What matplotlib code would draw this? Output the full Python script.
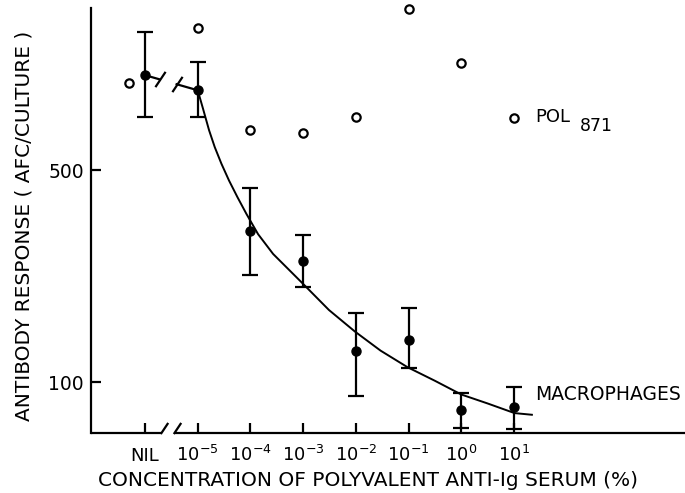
import matplotlib
matplotlib.use("Agg")
import matplotlib.pyplot as plt
from matplotlib.path import Path
from matplotlib.ticker import NullLocator
import numpy as np

plt.rcParams['font.family'] = ['DejaVu Sans']

# ---------------- data ----------------
conc_labels = ['NIL', r'$\mathregular{10^{-5}}$', r'$\mathregular{10^{-4}}$',
               r'$\mathregular{10^{-3}}$', r'$\mathregular{10^{-2}}$',
               r'$\mathregular{10^{-1}}$', r'$\mathregular{10^{0}}$',
               r'$\mathregular{10^{1}}$']
conc_exp = [-6, -5, -4, -3, -2, -1, 0, 1]   # log10(%) ; NIL drawn one decade left

mac_mean = [1032, 920, 316, 252, 127, 138, 81, 83]
mac_upper = [1432, 1139, 439, 307, 169, 176, 92, 96]
mac_lower = [749, 749, 226, 206, 90, 111, 70.5, 70]

pol_exp = [-6.3, -5, -4, -3, -2, -1, 0, 1]
pol_resp = [971, 1476, 679, 663, 749, 1706, 1130, 743]

fit_exp = [-5.0, -4.9, -4.785, -4.677, -4.55, -4.406, -4.246, -4.075, -3.855,
           -3.57, -3.0, -2.51, -2.02, -1.53, -1.02, -0.5, 0.0, 0.5, 1.01, 1.34]
fit_resp = [920, 800, 679, 597, 526, 463, 408, 359, 308,
            265, 211, 173, 147, 127, 112, 101, 91, 85, 79, 78]

y_ticks = [100, 500]

# ---------------- figure ----------------
fig = plt.figure(figsize=(6.85, 4.93), dpi=100)
ax = fig.add_axes([91/685, 60/493, 594/685, 425/493])
ax.set_yscale('log')
ax.set_xlim(-7.025, 4.245)
ax.set_ylim(67.9, 1720)

lw = 1.6
yerr = [np.array(mac_mean) - np.array(mac_lower), np.array(mac_upper) - np.array(mac_mean)]
ax.errorbar(conc_exp, mac_mean, yerr=yerr, fmt='o', color='black', ms=6.5,
            elinewidth=lw, capsize=5.5, capthick=lw, clip_on=False, zorder=3)

# fitted curve
ax.plot(fit_exp, fit_resp, color='black', lw=1.4, zorder=2,
        solid_joinstyle='round')

# open circles
ax.plot(pol_exp, pol_resp, 'o', mfc='white', mec='black', mew=1.6, ms=6,
        clip_on=False, zorder=4)

# broken connection NIL -> 1e-5
lx = [conc_exp[0], conc_exp[1]]
ly = np.log10([mac_mean[0], mac_mean[1]])
def seg(x):
    return 10 ** np.interp(x, lx, ly)
slash = Path([(-2, -3), (2, 3)], [Path.MOVETO, Path.LINETO])
b1, b2 = -5.72, -5.40
ax.plot([lx[0], b1], [seg(lx[0]), seg(b1)], color='black', lw=lw)
ax.plot([b2, lx[1]], [seg(b2), seg(lx[1])], color='black', lw=lw)
ax.plot([b1, b2], [seg(b1), seg(b2)], ls='none', marker=slash, ms=11,
        mew=lw, color='black')

# axes styling
for s in ['top', 'right', 'bottom']:
    ax.spines[s].set_visible(False)
ax.spines['left'].set_linewidth(lw)

xt = ax.get_xaxis_transform()
ax.plot([-7.025, -5.70], [0, 0], color='black', lw=lw, transform=xt,
        clip_on=False, solid_capstyle='butt')
ax.plot([-5.44, 4.245], [0, 0], color='black', lw=lw, transform=xt,
        clip_on=False, solid_capstyle='butt')
ax.plot([-5.645, -5.39], [0.011, 0.011], ls='none', marker=slash, ms=8,
        mew=lw, color='black', transform=xt, clip_on=False)

ax.set_xticks(conc_exp)
ax.set_xticklabels(conc_labels)
ax.yaxis.set_minor_locator(NullLocator())
ax.set_yticks(y_ticks)
ax.set_yticklabels([str(v) for v in y_ticks])
ax.tick_params(axis='both', direction='in', length=7, width=lw, labelsize=13)
ax.tick_params(axis='x', pad=20)
ax.tick_params(axis='y', pad=5, labelsize=13.5)
for lbl in ax.get_xticklabels():
    lbl.set_va('baseline')

# labels
ax.text(1.41, 749, 'POL', fontsize=13, va='center', ha='left')
ax.annotate('871', xy=(1.41, 749), xytext=(32, -6), textcoords='offset points',
            fontsize=12.5, va='center', ha='left')
ax.text(1.395, 91, 'MACROPHAGES', fontsize=13.5, va='center', ha='left')

fig.text(368/685, 1 - 481/493, 'CONCENTRATION OF POLYVALENT ANTI-Ig SERUM (%)',
         fontsize=14.5, ha='center', va='center')
fig.text(24/685, 1 - 226/493, 'ANTIBODY RESPONSE ( AFC/CULTURE )',
         fontsize=14.5, ha='center', va='center', rotation=90)

fig.savefig('out.png', dpi=100)
